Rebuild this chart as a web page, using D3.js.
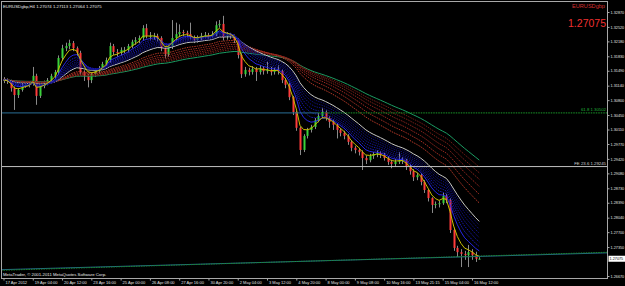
<!DOCTYPE html>
<html>
<head>
<meta charset="utf-8">
<script src="https://cdn.jsdelivr.net/npm/d3@7"></script>
<style>
  html, body { margin: 0; padding: 0; background: #000; }
  svg { display: block; }
  text { font-family: "Liberation Sans", Arial, sans-serif; }
</style>
</head>
<body>
<div id="chart"></div>
<script>
// ---- data ----
const symbol = "EURUSDgbp";
const period = "H4";
const lastQuote = [1.27074, 1.27113, 1.27064, 1.27075]; // O H L C

const firstOpen = 1.3130;
const closes = [
  1.3127,1.3125,1.3108,1.3092,1.3104,1.3113,1.3116,1.3118,1.3137,1.3090,
  1.3113,1.3120,1.3127,1.3137,1.3146,1.3179,1.3202,1.3207,1.3214,1.3202,
  1.3191,1.3146,1.3137,1.3127,1.3141,1.3148,1.3155,1.3165,1.3174,1.3207,
  1.3193,1.3191,1.3198,1.3198,1.3207,1.3217,1.3221,1.3226,1.3249,1.3231,
  1.3231,1.3231,1.3226,1.3202,1.3188,1.3207,1.3226,1.3235,1.3240,1.3238,
  1.3235,1.3228,1.3221,1.3226,1.3231,1.3233,1.3231,1.3235,1.3256,1.3259,
  1.3228,1.3233,1.3231,1.3221,1.3186,1.3141,1.3151,1.3146,1.3153,1.3146,
  1.3155,1.3148,1.3151,1.3146,1.3151,1.3148,1.3127,1.3116,1.3087,1.3052,
  1.3015,1.2963,1.2996,1.3010,1.3017,1.3033,1.3043,1.3052,1.3038,1.3029,
  1.3022,1.3010,1.3003,1.2996,1.2982,1.2968,1.2963,1.2958,1.2944,1.2939,
  1.2949,1.2953,1.2956,1.2951,1.2944,1.2935,1.2930,1.2935,1.2939,1.2939,
  1.2923,1.2913,1.2899,1.2904,1.2888,1.2869,1.2850,1.2834,1.2836,1.2838,
  1.2855,1.2845,1.2775,1.2733,1.2723,1.2719,1.2716,1.2723,1.2716,1.27074,
  1.27075
];
const highs = [
  1.3134,1.3131,1.3128,1.3112,1.3108,1.3118,1.3121,1.3123,1.3158,1.3142,
  1.3118,1.3126,1.3132,1.3142,1.3151,1.3185,1.3210,1.3215,1.3222,1.3219,
  1.3206,1.3196,1.3150,1.3142,1.3146,1.3154,1.3160,1.3170,1.3180,1.3215,
  1.3212,1.3200,1.3204,1.3205,1.3212,1.3222,1.3228,1.3232,1.3256,1.3259,
  1.3240,1.3238,1.3236,1.3230,1.3207,1.3212,1.3268,1.3262,1.3258,1.3245,
  1.3243,1.3262,1.3232,1.3232,1.3238,1.3240,1.3238,1.3242,1.3265,1.3268,
  1.3278,1.3240,1.3238,1.3234,1.3226,1.3190,1.3158,1.3156,1.3160,1.3158,
  1.3162,1.3160,1.3170,1.3158,1.3156,1.3162,1.3152,1.3132,1.3120,1.3090,
  1.3055,1.3018,1.3000,1.3015,1.3022,1.3038,1.3050,1.3062,1.3056,1.3042,
  1.3034,1.3026,1.3014,1.3008,1.3000,1.2986,1.2972,1.2968,1.2962,1.2950,
  1.2954,1.2958,1.2962,1.2960,1.2956,1.2948,1.2940,1.2942,1.2958,1.2946,
  1.2942,1.2928,1.2918,1.2910,1.2908,1.2892,1.2872,1.2852,1.2842,1.2844,
  1.2862,1.2860,1.2850,1.2780,1.2738,1.2730,1.2726,1.2740,1.2730,1.2724,
  1.27113
];
const lows = [
  1.3120,1.3118,1.3100,1.3057,1.3085,1.3100,1.3109,1.3110,1.3114,1.3069,
  1.3085,1.3108,1.3115,1.3122,1.3130,1.3140,1.3172,1.3195,1.3200,1.3195,
  1.3184,1.3138,1.3125,1.3110,1.3120,1.3135,1.3142,1.3150,1.3160,1.3168,
  1.3186,1.3182,1.3185,1.3190,1.3192,1.3202,1.3210,1.3214,1.3220,1.3225,
  1.3222,1.3222,1.3218,1.3195,1.3178,1.3182,1.3200,1.3220,1.3228,1.3230,
  1.3228,1.3222,1.3214,1.3215,1.3220,1.3225,1.3224,1.3226,1.3230,1.3250,
  1.3220,1.3222,1.3224,1.3214,1.3178,1.3132,1.3135,1.3138,1.3140,1.3125,
  1.3140,1.3140,1.3142,1.3138,1.3140,1.3140,1.3120,1.3108,1.3080,1.3045,
  1.3008,1.2951,1.2958,1.2990,1.3004,1.3012,1.3028,1.3038,1.3032,1.3015,
  1.3010,1.2990,1.2995,1.2988,1.2975,1.2960,1.2955,1.2950,1.2916,1.2930,
  1.2934,1.2942,1.2946,1.2944,1.2938,1.2928,1.2920,1.2924,1.2930,1.2930,
  1.2916,1.2905,1.2890,1.2892,1.2880,1.2862,1.2842,1.2815,1.2826,1.2828,
  1.2834,1.2838,1.2768,1.2726,1.2712,1.2688,1.2705,1.2688,1.2705,1.2700,
  1.27064
];

// one label every 8 bars
const timeLabels = [
  "17 Apr 2012", "19 Apr 04:00", "20 Apr 12:00", "23 Apr 16:00", "25 Apr 00:00",
  "26 Apr 08:00", "27 Apr 16:00", "30 Apr 20:00", "2 May 04:00", "3 May 12:00",
  "4 May 20:00", "8 May 00:00", "9 May 08:00", "10 May 16:00", "13 May 21:15",
  "15 May 04:00", "16 May 12:00"
];
const priceTicks = [
  1.32870, 1.32520, 1.32180, 1.31830, 1.31490, 1.31140, 1.30800, 1.30450, 1.30110,
  1.29770, 1.29420, 1.29080, 1.28730, 1.28390, 1.28040, 1.27700, 1.27350, 1.26670
];

// moving average periods (ribbon)
const yellowPeriod = 4;
const bluePeriods = [7, 9, 11, 13, 15, 17, 19];
const whitePeriod = 21;
const redPeriods = [32, 38, 44, 50, 56, 62];
const greenPeriod = 70;

// chart objects
const fibLevel = { label: "61.8 1.30502", price: 1.30500, fromBar: 86 };
const feLevel = { label: "FE 23.6 1.29245", price: 1.29240 };
const trendBars = [0, 130];
const trendPrices = [1.2682, 1.2713];

// ---- layout ----
const W = 625, H = 286;
const plot = { left: 1, right: 607, top: 1, bottom: 278 };

const svg = d3.select("#chart").append("svg")
  .attr("width", W).attr("height", H)
  .style("background", "#000");

const x = d3.scaleLinear().domain([0, 130]).range([3.5, 479.3]);
const y = d3.scaleLinear().domain([1.32870, 1.26670]).range([12, 276]);

svg.append("clipPath").attr("id", "clip")
  .append("rect")
  .attr("x", plot.left).attr("y", plot.top)
  .attr("width", plot.right - plot.left).attr("height", plot.bottom - plot.top);

const g = svg.append("g").attr("clip-path", "url(#clip)");

// candles
const bars = closes.map((c, i) => ({
  i: i,
  o: i === 0 ? firstOpen : closes[i - 1],
  h: highs[i], l: lows[i], c: c
}));

g.selectAll("line.wick").data(bars).join("line")
  .attr("class", "wick")
  .attr("x1", d => Math.round(x(d.i)) + 0.5).attr("x2", d => Math.round(x(d.i)) + 0.5)
  .attr("y1", d => y(d.h)).attr("y2", d => y(d.l))
  .attr("stroke", "#8a8a8a").attr("stroke-width", 1);

g.selectAll("rect.body").data(bars).join("rect")
  .attr("class", "body")
  .attr("x", d => Math.round(x(d.i)) - 0.5)
  .attr("width", 2)
  .attr("y", d => y(Math.max(d.o, d.c)))
  .attr("height", d => Math.max(1, Math.abs(y(d.o) - y(d.c))))
  .attr("fill", d => d.c >= d.o ? "#3ad23a" : "#ff3a3a");

// moving averages
function ema(values, n) {
  const k = 2 / (n + 1);
  let prev = values[0];
  return values.map((v, i) => (i === 0 ? prev : (prev = prev + k * (v - prev))));
}
const line = d3.line().x((d, i) => x(i)).y(d => y(d));

function drawMA(n, color, dash, width) {
  g.append("path")
    .datum(ema(closes, n))
    .attr("d", line)
    .attr("fill", "none")
    .attr("stroke", color)
    .attr("stroke-width", width)
    .attr("stroke-dasharray", dash);
}

drawMA(greenPeriod, "#1c9c62", null, 1);
const redColors = ["#c8402c", "#b83428", "#a82c24", "#982820", "#8a241c", "#7c2018"];
redPeriods.forEach((n, k) => drawMA(n, redColors[k], "1.5,1", 0.9));
drawMA(whitePeriod, "#c8c8c8", null, 1);
const blueColors = ["#2a2aff", "#1e1ed0", "#1a1ab8", "#1616a4", "#141494", "#121288", "#10107c"];
bluePeriods.forEach((n, k) => drawMA(n, blueColors[k], k === 0 ? null : "1.5,1", 0.9));
drawMA(yellowPeriod, "#c8c000", null, 1);

// horizontal objects
g.append("line")
  .attr("x1", plot.left).attr("x2", x(fibLevel.fromBar))
  .attr("y1", y(fibLevel.price)).attr("y2", y(fibLevel.price))
  .attr("stroke", "#2a6e96").attr("stroke-width", 1);
g.append("line")
  .attr("x1", x(fibLevel.fromBar)).attr("x2", plot.right)
  .attr("y1", y(fibLevel.price)).attr("y2", y(fibLevel.price))
  .attr("stroke", "#1a9a2a").attr("stroke-width", 1).attr("stroke-dasharray", "1.5,1");

g.append("line")
  .attr("x1", plot.left).attr("x2", plot.right)
  .attr("y1", y(feLevel.price)).attr("y2", y(feLevel.price))
  .attr("stroke", "#c0c0c0").attr("stroke-width", 1);

// rising trendline, extended over the whole plot
const trendX = d3.scaleLinear().domain(trendBars).range(trendPrices);
const barLeft = x.invert(plot.left), barRight = x.invert(plot.right);
g.append("line")
  .attr("x1", plot.left).attr("y1", y(trendX(barLeft)))
  .attr("x2", plot.right).attr("y2", y(trendX(barRight)))
  .attr("stroke", "#24648e").attr("stroke-width", 1);
g.append("line")
  .attr("x1", plot.left).attr("y1", y(trendX(barLeft)) + 0.6)
  .attr("x2", plot.right).attr("y2", y(trendX(barRight)) - 0.6)
  .attr("stroke", "#1a8a2a").attr("stroke-width", 1).attr("stroke-dasharray", "1.5,1");

// object labels
svg.append("text")
  .attr("x", plot.right - 1).attr("y", y(fibLevel.price) - 1.5)
  .attr("text-anchor", "end").attr("font-size", 4.3).attr("fill", "#22b23a")
  .text(fibLevel.label);
svg.append("text")
  .attr("x", plot.right - 1).attr("y", y(feLevel.price) - 1.5)
  .attr("text-anchor", "end").attr("font-size", 4.3).attr("fill", "#d0d0d0")
  .text(feLevel.label);

// frame
svg.append("rect")
  .attr("x", plot.left + 0.5).attr("y", plot.top + 0.5)
  .attr("width", plot.right - plot.left).attr("height", plot.bottom - plot.top)
  .attr("fill", "none").attr("stroke", "#a8a8a8").attr("stroke-width", 1);

// price axis
const yAxis = svg.append("g")
  .attr("transform", `translate(${plot.right + 0.5},0)`)
  .call(d3.axisRight(y).tickValues(priceTicks).tickFormat(d3.format(".5f")).tickSize(2).tickPadding(1));
yAxis.select(".domain").remove();
yAxis.selectAll("line").attr("stroke", "#a8a8a8");
yAxis.selectAll("text").attr("fill", "#e0e0e0").attr("font-size", 3.8)
  .attr("font-family", "Liberation Sans, Arial, sans-serif");

// current price marker
const lastY = y(lastQuote[3]);
svg.append("rect")
  .attr("x", plot.right + 1.5).attr("y", lastY - 3)
  .attr("width", W - plot.right - 1.5).attr("height", 6)
  .attr("fill", "#ffffff");
svg.append("text")
  .attr("x", plot.right + 2.5).attr("y", lastY + 1.5)
  .attr("font-size", 3.8).attr("fill", "#000")
  .text(d3.format(".5f")(lastQuote[3]));

// time axis
const xAxis = svg.append("g")
  .attr("transform", `translate(0,${plot.bottom + 0.5})`)
  .call(d3.axisBottom(x).tickValues(d3.range(0, 131, 8))
    .tickFormat((d, i) => timeLabels[i]).tickSize(2).tickPadding(1));
xAxis.select(".domain").remove();
xAxis.selectAll("line").attr("stroke", "#a8a8a8");
xAxis.selectAll("text")
  .attr("text-anchor", "start").attr("dx", 1.5)
  .attr("fill", "#e0e0e0").attr("font-size", 4)
  .attr("font-family", "Liberation Sans, Arial, sans-serif");

// header texts
svg.append("text")
  .attr("x", 3).attr("y", 7.5).attr("font-size", 4.3).attr("fill", "#e8e8e8")
  .text(`${symbol},${period}  ` + lastQuote.map(d3.format(".5f")).join(" "));

svg.append("text")
  .attr("x", plot.right - 2).attr("y", 8).attr("text-anchor", "end")
  .attr("font-size", 5.6).attr("fill", "#d43030")
  .text(symbol);
svg.append("text")
  .attr("x", plot.right - 1).attr("y", 27).attr("text-anchor", "end")
  .attr("font-size", 10.5).attr("fill", "#f03030")
  .text(d3.format(".5f")(lastQuote[3]));

svg.append("text")
  .attr("x", 3).attr("y", 275.5).attr("font-size", 4.3).attr("fill", "#e8e8e8")
  .text("MetaTrader, \u00a9 2001-2011 MetaQuotes Software Corp.");
</script>
</body>
</html>
